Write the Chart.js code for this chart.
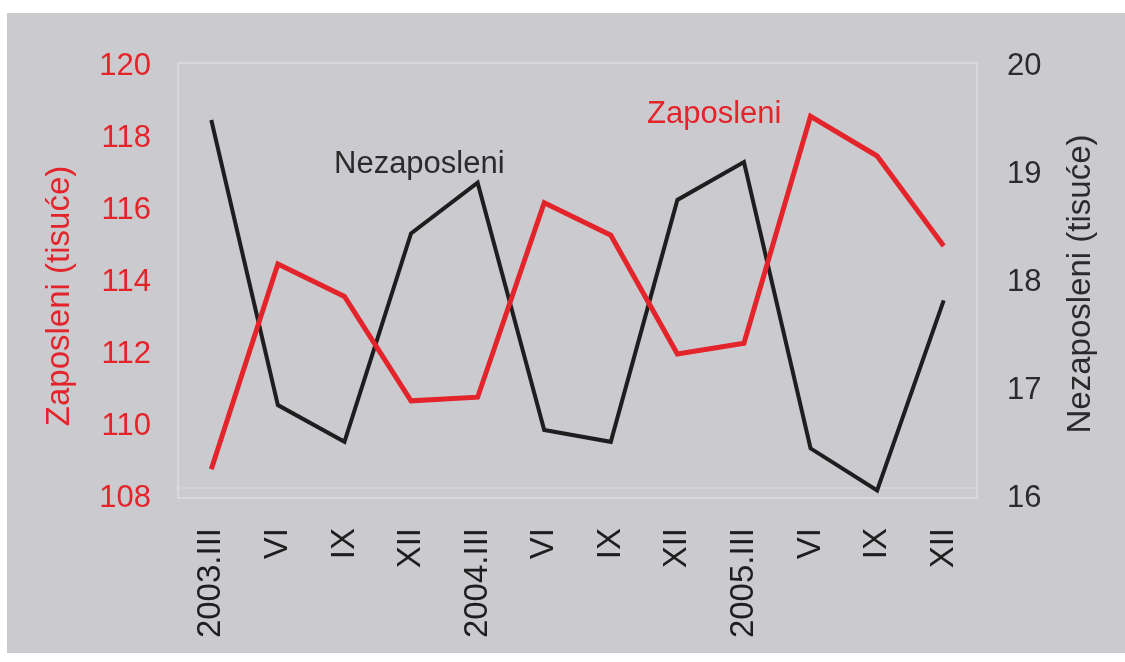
<!DOCTYPE html>
<html>
<head>
<meta charset="utf-8">
<script src="https://cdn.jsdelivr.net/npm/chart.js@4"></script>
<style>
    body { margin: 0; background: #ffffff; }
    .panel {
        position: absolute; left: 7px; top: 13px;
        width: 1118px; height: 640px;
        background: #cbcbcf;
    }
    #chart { position: absolute; left: 0; top: 0; }
</style>
</head>
<body>
<div class="panel"></div>
<canvas id="chart" width="1125" height="662"></canvas>
<script>
// kvartali
const labels = ['2003.III', 'VI', 'IX', 'XII', '2004.III', 'VI', 'IX', 'XII', '2005.III', 'VI', 'IX', 'XII'];
// zaposleni, tisuće (lijeva os)
const zaposleni = [108.8, 114.5, 113.6, 110.7, 110.8, 116.2, 115.3, 112.0, 112.3, 118.6, 117.5, 115.0];
// nezaposleni, tisuće (desna os)
const nezaposleni = [19.5, 16.86, 16.52, 18.45, 18.92, 16.63, 16.52, 18.76, 19.11, 16.46, 16.07, 17.83];

const RED = '#e3242b';
const DARK = '#1e1e1e';
const FONT = '"Liberation Sans", Arial, sans-serif';

// natpisi serija, naslovi osi i svijetli okvir
const textPlugin = {
    id: 'texts',
    beforeDatasetsDraw(chart) {
        const ctx = chart.ctx;
        const a = chart.chartArea;
        ctx.save();
        ctx.strokeStyle = '#d9d9dc';
        ctx.lineWidth = 2;
        ctx.strokeRect(a.left, a.top - 3, a.right - a.left, a.bottom - a.top + 3);
        ctx.beginPath();
        ctx.moveTo(a.left, a.bottom - 10);
        ctx.lineTo(a.right, a.bottom - 10);
        ctx.lineWidth = 1;
        ctx.stroke();
        ctx.restore();
    },
    afterDraw(chart) {
        const ctx = chart.ctx;
        ctx.save();
        ctx.font = '31px ' + FONT;
        ctx.textBaseline = 'middle';
        ctx.fillStyle = '#2b2b2b';
        ctx.fillText('Nezaposleni', 334, 164);
        ctx.fillStyle = RED;
        ctx.fillText('Zaposleni', 647, 114);

        ctx.font = '33px ' + FONT;
        ctx.textAlign = 'center';
        ctx.translate(60, 296);
        ctx.rotate(-Math.PI / 2);
        ctx.fillStyle = RED;
        ctx.fillText('Zaposleni (tisuće)', 0, 0);
        ctx.restore();

        ctx.save();
        ctx.font = '33px ' + FONT;
        ctx.textAlign = 'center';
        ctx.textBaseline = 'middle';
        ctx.translate(1081, 284);
        ctx.rotate(-Math.PI / 2);
        ctx.fillStyle = '#2b2b2b';
        ctx.fillText('Nezaposleni (tisuće)', 0, 0);
        ctx.restore();
    }
};

new Chart(document.getElementById('chart'), {
    type: 'line',
    data: {
        labels: labels,
        datasets: [{
            label: 'Zaposleni',
            data: zaposleni,
            yAxisID: 'y',
            borderColor: RED,
            borderWidth: 5,
            pointRadius: 0,
            tension: 0
        }, {
            label: 'Nezaposleni',
            data: nezaposleni,
            yAxisID: 'y1',
            borderColor: DARK,
            borderWidth: 4,
            pointRadius: 0,
            tension: 0
        }]
    },
    options: {
        responsive: false,
        animation: false,
        layout: { padding: { top: 66, left: 0, right: 0, bottom: 0 } },
        plugins: {
            legend: { display: false },
            tooltip: { enabled: false }
        },
        scales: {
            x: {
                offset: true,
                grid: { display: false },
                border: { display: false },
                ticks: {
                    autoSkip: false,
                    minRotation: 90,
                    maxRotation: 90,
                    padding: 22,
                    color: DARK,
                    font: { family: FONT, size: 33 }
                },
                afterFit(scale) { scale.height = 164; }
            },
            y: {
                position: 'left',
                min: 108,
                max: 120,
                grid: { display: false },
                border: { display: false },
                ticks: {
                    stepSize: 2,
                    padding: 19,
                    color: RED,
                    font: { family: FONT, size: 31 }
                },
                afterFit(scale) { scale.width = 178; }
            },
            y1: {
                position: 'right',
                min: 16,
                max: 20,
                grid: { display: false },
                border: { display: false },
                ticks: {
                    stepSize: 1,
                    padding: 22,
                    color: '#2b2b2b',
                    font: { family: FONT, size: 31 }
                },
                afterFit(scale) { scale.width = 148; }
            }
        }
    },
    plugins: [textPlugin]
});
</script>
</body>
</html>
